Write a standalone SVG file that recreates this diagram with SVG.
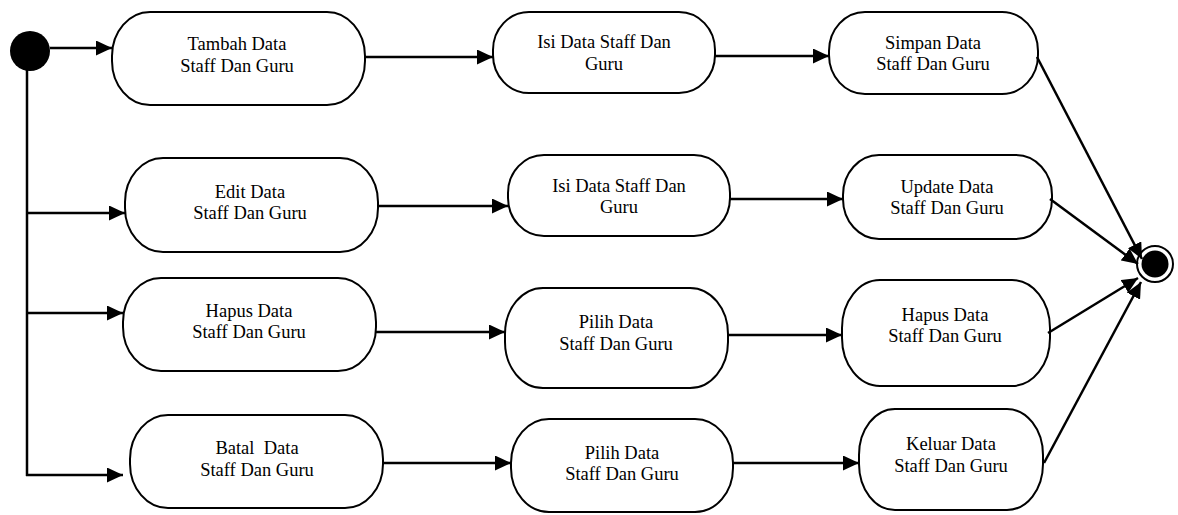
<svg xmlns="http://www.w3.org/2000/svg" width="1178" height="515" viewBox="0 0 1178 515">
<style>
.n{fill:#fff;stroke:#000;stroke-width:2}
.t{font-family:"Liberation Serif","Times New Roman",serif;font-size:18.5px;fill:#000;text-anchor:middle}
.c{stroke:#000;stroke-width:2.5;fill:none}
</style>
<defs>
<marker id="ah" markerUnits="userSpaceOnUse" markerWidth="17" markerHeight="15" refX="16" refY="7.5" orient="auto">
<path d="M0,0 L16,7.5 L0,15 z" fill="#000"/>
</marker>
</defs>
<rect width="1178" height="515" fill="#fff"/>
<g id="start"><circle cx="30" cy="51" r="20" fill="#000"/></g>
<g id="end"><circle cx="1155" cy="264" r="18" fill="#fff" stroke="#000" stroke-width="2"/><circle cx="1155" cy="264" r="13.5" fill="#000"/></g>
<g id="n1"><rect class="n" x="112" y="12" width="253" height="93" rx="38" ry="44"/><text class="t" x="237" y="50">Tambah Data</text><text class="t" x="237" y="72">Staff Dan Guru</text></g>
<g id="n2"><rect class="n" x="493" y="12" width="222" height="81" rx="36" ry="38"/><text class="t" x="604" y="48">Isi Data Staff Dan</text><text class="t" x="604" y="70">Guru</text></g>
<g id="n3"><rect class="n" x="829" y="12" width="209" height="82" rx="36" ry="39"/><text class="t" x="933" y="49">Simpan Data</text><text class="t" x="933" y="70">Staff Dan Guru</text></g>
<g id="n4"><rect class="n" x="125" y="158" width="253" height="94" rx="38" ry="44"/><text class="t" x="250" y="198">Edit Data</text><text class="t" x="250" y="219">Staff Dan Guru</text></g>
<g id="n5"><rect class="n" x="508" y="155" width="222" height="81" rx="36" ry="38"/><text class="t" x="619" y="192">Isi Data Staff Dan</text><text class="t" x="619" y="213">Guru</text></g>
<g id="n6"><rect class="n" x="843" y="155" width="209" height="84" rx="36" ry="40"/><text class="t" x="947" y="193">Update Data</text><text class="t" x="947" y="214">Staff Dan Guru</text></g>
<g id="n7"><rect class="n" x="123" y="278" width="253" height="93" rx="38" ry="44"/><text class="t" x="249" y="317">Hapus Data</text><text class="t" x="249" y="338">Staff Dan Guru</text></g>
<g id="n8"><rect class="n" x="505" y="288" width="223" height="100" rx="38" ry="46"/><text class="t" x="616" y="328">Pilih Data</text><text class="t" x="616" y="350">Staff Dan Guru</text></g>
<g id="n9"><rect class="n" x="842" y="280" width="208" height="106" rx="38" ry="48"/><text class="t" x="945" y="321">Hapus Data</text><text class="t" x="945" y="342">Staff Dan Guru</text></g>
<g id="n10"><rect class="n" x="130" y="415" width="253" height="93" rx="38" ry="44"/><text class="t" x="257" y="454" xml:space="preserve">Batal  Data</text><text class="t" x="257" y="476">Staff Dan Guru</text></g>
<g id="n11"><rect class="n" x="511" y="419" width="222" height="93" rx="38" ry="44"/><text class="t" x="622" y="459">Pilih Data</text><text class="t" x="622" y="480">Staff Dan Guru</text></g>
<g id="n12"><rect class="n" x="859" y="409" width="184" height="101" rx="36" ry="46"/><text class="t" x="951" y="450">Keluar Data</text><text class="t" x="951" y="472">Staff Dan Guru</text></g>
<g id="connectors">
<line class="c" x1="50" y1="48" x2="112" y2="48" marker-end="url(#ah)"/>
<line class="c" x1="27" y1="68" x2="27" y2="476"/>
<line class="c" x1="26" y1="213" x2="125" y2="213" marker-end="url(#ah)"/>
<line class="c" x1="26" y1="313" x2="123" y2="313" marker-end="url(#ah)"/>
<line class="c" x1="26" y1="475" x2="123" y2="475" marker-end="url(#ah)"/>
<line class="c" x1="365" y1="57" x2="493" y2="57" marker-end="url(#ah)"/>
<line class="c" x1="715" y1="56" x2="829" y2="56" marker-end="url(#ah)"/>
<line class="c" x1="378" y1="206" x2="508" y2="206" marker-end="url(#ah)"/>
<line class="c" x1="730" y1="199" x2="843" y2="199" marker-end="url(#ah)"/>
<line class="c" x1="376" y1="332" x2="505" y2="332" marker-end="url(#ah)"/>
<line class="c" x1="728" y1="335" x2="842" y2="335" marker-end="url(#ah)"/>
<line class="c" x1="383" y1="463" x2="511" y2="463" marker-end="url(#ah)"/>
<line class="c" x1="733" y1="463" x2="859" y2="463" marker-end="url(#ah)"/>
<line class="c" x1="1037" y1="57" x2="1142" y2="259" marker-end="url(#ah)"/>
<line class="c" x1="1050" y1="199" x2="1138" y2="264" marker-end="url(#ah)"/>
<line class="c" x1="1048" y1="333" x2="1138" y2="278" marker-end="url(#ah)"/>
<line class="c" x1="1044" y1="463" x2="1141" y2="282" marker-end="url(#ah)"/>
</g>
</svg>
